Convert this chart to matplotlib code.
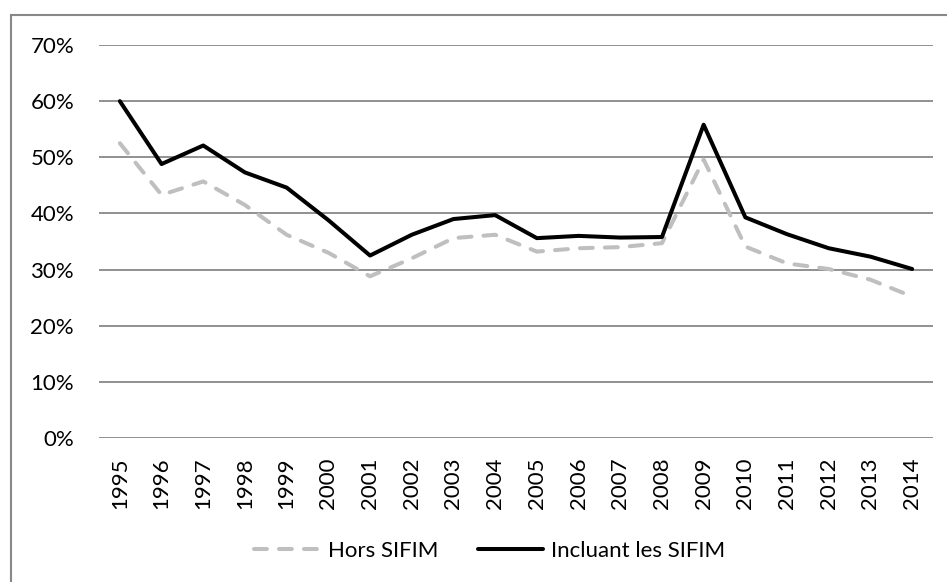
import matplotlib.pyplot as plt
from matplotlib.lines import Line2D
from matplotlib.ticker import FuncFormatter

plt.rcParams["font.family"] = ["Lato", "DejaVu Sans"]

# données (en %)
years = [str(y) for y in range(1995, 2015)]
hors_sifim = [52.5, 43.3, 45.7, 41.5, 36.2, 33.0, 28.8, 32.0, 35.6, 36.2,
              33.2, 33.8, 34.0, 34.7, 49.6, 34.1, 31.1, 30.1, 28.2, 25.2]
incluant_sifim = [60.0, 48.8, 52.1, 47.3, 44.6, 38.8, 32.5, 36.2, 39.0, 39.7,
                  35.6, 36.0, 35.7, 35.8, 55.8, 39.3, 36.3, 33.8, 32.3, 30.1]

W, H = 947, 582
fig = plt.figure(figsize=(W / 100, H / 100), dpi=100)
ax = fig.add_axes([99 / W, 1 - 438 / H, 834 / W, 393 / H])

x = range(len(years))
ax.plot(x, hors_sifim, color="#bfbfbf", lw=2.9, linestyle=(0, (3.2, 3.0)),
        dash_capstyle="round", solid_joinstyle="round", label="Hors SIFIM")
ax.plot(x, incluant_sifim, color="black", lw=2.9, solid_capstyle="round",
        solid_joinstyle="round", label="Incluant les SIFIM")

ax.set_xlim(-0.5, len(years) - 0.5)
ax.set_ylim(0, 70)
ax.set_yticks(range(0, 71, 10))
ax.yaxis.set_major_formatter(FuncFormatter(lambda v, p: f"{v:.0f}%"))
ax.set_xticks(list(x))
ax.set_xticklabels(years, rotation=90)
ax.tick_params(axis="both", length=0, labelsize=16, colors="black")
ax.tick_params(axis="y", pad=18)
ax.tick_params(axis="x", pad=14)

ax.grid(axis="y", color="#888888", lw=1.3)
ax.set_axisbelow(True)
for s in ax.spines.values():
    s.set_visible(False)

ax.legend(loc="center", bbox_to_anchor=(490 / W, 1 - 551 / H),
          bbox_transform=fig.transFigure, ncol=2, frameon=False, fontsize=16,
          handlelength=2.9, columnspacing=1.8, handletextpad=0.4)

# cadre du graphique (seuls les bords gauche et haut sont visibles)
fig.add_artist(Line2D([11 / W, 11 / W], [0, 1 - 15 / H], transform=fig.transFigure,
                      color="#888888", lw=1.5))
fig.add_artist(Line2D([11 / W, 1], [1 - 15 / H, 1 - 15 / H], transform=fig.transFigure,
                      color="#888888", lw=1.5))

fig.savefig("out.png", dpi=100)
